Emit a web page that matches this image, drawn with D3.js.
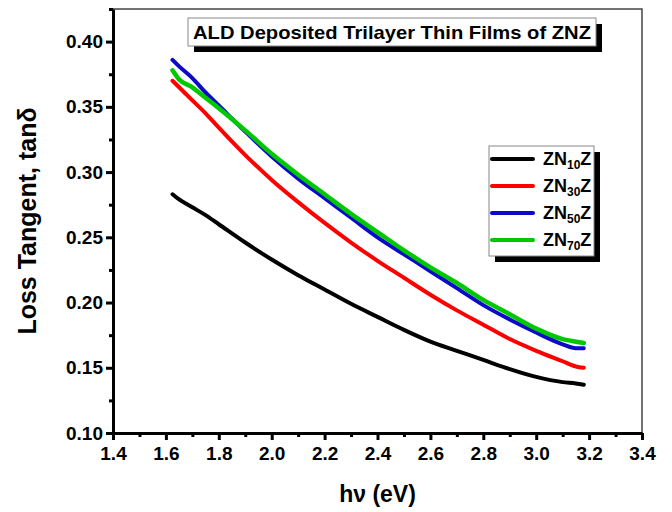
<!DOCTYPE html>
<html>
<head>
<meta charset="utf-8">
<script src="https://cdn.jsdelivr.net/npm/d3@7"></script>
<style>
  body { margin: 0; background: #fff; }
  svg { display: block; font-family: "Liberation Sans", Arial, sans-serif; }
  .axis text { font-size: 19px; font-weight: bold; fill: #000; }
  .axis path, .axis line { stroke: #000; }
</style>
</head>
<body>
<script>
// photon energy grid (eV)
var energy = [1.625, 1.65, 1.7, 1.75, 1.8, 1.9, 2.0, 2.1, 2.2, 2.3, 2.4, 2.5, 2.6, 2.7, 2.8, 2.9, 3.0, 3.1, 3.15, 3.18];

// loss tangent
var zn10z = [0.283, 0.279, 0.273, 0.267, 0.260, 0.246, 0.233, 0.221, 0.210, 0.199, 0.189, 0.179, 0.170, 0.163, 0.156, 0.149, 0.143, 0.139, 0.138, 0.137];
var zn30z = [0.370, 0.365, 0.355, 0.345, 0.334, 0.313, 0.294, 0.277, 0.261, 0.246, 0.232, 0.219, 0.206, 0.194, 0.183, 0.172, 0.163, 0.155, 0.151, 0.150];
var zn50z = [0.386, 0.381, 0.372, 0.361, 0.351, 0.331, 0.312, 0.295, 0.280, 0.265, 0.250, 0.237, 0.224, 0.211, 0.198, 0.187, 0.177, 0.168, 0.165, 0.165];
var zn70z = [0.378, 0.371, 0.365, 0.357, 0.349, 0.332, 0.314, 0.298, 0.283, 0.268, 0.254, 0.240, 0.227, 0.215, 0.202, 0.191, 0.180, 0.172, 0.170, 0.169];

var seriesNames = ["10", "30", "50", "70"];
var seriesColors = ["#000000", "#ff0000", "#0a0ac8", "#00c800"];
var seriesValues = [zn10z, zn30z, zn50z, zn70z];

var xTicks = [1.4, 1.6, 1.8, 2.0, 2.2, 2.4, 2.6, 2.8, 3.0, 3.2, 3.4];
var xMinor = [1.5, 1.7, 1.9, 2.1, 2.3, 2.5, 2.7, 2.9, 3.1, 3.3];
var yTicks = [0.10, 0.15, 0.20, 0.25, 0.30, 0.35, 0.40];
var yMinor = [0.125, 0.175, 0.225, 0.275, 0.325, 0.375, 0.425];

var titleText = "ALD Deposited Trilayer Thin Films of ZNZ";

var margin = {top: 9, right: 30, bottom: 79, left: 113},
    width = 672 - margin.left - margin.right,
    height = 512 - margin.top - margin.bottom;

var x = d3.scaleLinear()
        .domain([1.4, 3.4])
        .range([0, width]);

var y = d3.scaleLinear()
        .domain([0.10, 0.425])
        .range([height, 0]);

var svg = d3.select("body").append("svg")
        .attr("width", 672)
        .attr("height", 512);

svg.append("rect")
        .attr("width", 672)
        .attr("height", 512)
        .attr("fill", "#fff");

var focus = svg.append("g")
        .attr("transform", "translate(" + margin.left + "," + margin.top + ")");

// thin frame on top / right
focus.append("path")
        .attr("d", "M0,0H" + width + "V" + height)
        .attr("fill", "none")
        .attr("stroke", "#444")
        .attr("stroke-width", 1.5);

var line = d3.line()
        .x(function(d) { return x(d[0]); })
        .y(function(d) { return y(d[1]); })
        .curve(d3.curveMonotoneX);

seriesValues.forEach(function(vals, i) {
    focus.append("path")
            .datum(energy.map(function(e, j) { return [e, vals[j]]; }))
            .attr("fill", "none")
            .attr("stroke", seriesColors[i])
            .attr("stroke-width", i == 3 ? 4.5 : 4)
            .attr("stroke-linejoin", "round")
            .attr("stroke-linecap", "round")
            .attr("d", line);
});

// minor ticks
focus.append("g")
        .attr("class", "axis")
        .attr("transform", "translate(0," + height + ")")
        .call(d3.axisBottom(x).tickValues(xMinor).tickSize(4).tickFormat(""))
        .call(function(g) { g.select(".domain").remove(); })
        .selectAll("line").attr("stroke-width", 3);
focus.append("g")
        .attr("class", "axis")
        .call(d3.axisLeft(y).tickValues(yMinor).tickSize(4).tickFormat(""))
        .call(function(g) { g.select(".domain").remove(); })
        .selectAll("line").attr("stroke-width", 3);

// major axes
var xAxisG = focus.append("g")
        .attr("class", "axis")
        .attr("transform", "translate(0," + height + ")")
        .call(d3.axisBottom(x).tickValues(xTicks).tickSize(7).tickSizeOuter(0).tickPadding(7).tickFormat(d3.format(".1f")));
xAxisG.select(".domain").attr("stroke-width", 3);
xAxisG.selectAll("line").attr("stroke-width", 3);

var yAxisG = focus.append("g")
        .attr("class", "axis")
        .call(d3.axisLeft(y).tickValues(yTicks).tickSize(7).tickSizeOuter(0).tickPadding(3).tickFormat(d3.format(".2f")));
yAxisG.select(".domain").attr("stroke-width", 3);
yAxisG.selectAll("line").attr("stroke-width", 3);

// axis titles
svg.append("text")
        .attr("transform", "translate(36," + (margin.top + height / 2) + ") rotate(-90)")
        .attr("text-anchor", "middle")
        .attr("font-size", 25)
        .attr("font-weight", "bold")
        .text("Loss Tangent, tanδ");

svg.append("text")
        .attr("x", margin.left + width / 2)
        .attr("y", 502)
        .attr("text-anchor", "middle")
        .attr("font-size", 23)
        .attr("font-weight", "bold")
        .text("hν (eV)");

// title box
var tb = {x: 188, y: 18, w: 408, h: 28};
svg.append("rect")
        .attr("x", tb.x + 6).attr("y", tb.y + 6)
        .attr("width", tb.w).attr("height", tb.h)
        .attr("fill", "#000");
svg.append("rect")
        .attr("x", tb.x).attr("y", tb.y)
        .attr("width", tb.w).attr("height", tb.h)
        .attr("fill", "#fff")
        .attr("stroke", "#888")
        .attr("stroke-width", 1);
svg.append("text")
        .attr("x", tb.x + tb.w / 2)
        .attr("y", tb.y + 21)
        .attr("text-anchor", "middle")
        .attr("font-size", 19)
        .attr("font-weight", "bold")
        .attr("textLength", 398)
        .attr("lengthAdjust", "spacingAndGlyphs")
        .text(titleText);

// legend
var lg = {x: 489, y: 146, w: 105, h: 110};
svg.append("rect")
        .attr("x", lg.x + 6).attr("y", lg.y + 6)
        .attr("width", lg.w).attr("height", lg.h)
        .attr("fill", "#000");
svg.append("rect")
        .attr("x", lg.x).attr("y", lg.y)
        .attr("width", lg.w).attr("height", lg.h)
        .attr("fill", "#fff")
        .attr("stroke", "#888")
        .attr("stroke-width", 1);

var legend = svg.append("g")
        .selectAll("g")
        .data(seriesNames)
        .enter().append("g")
        .attr("transform", function(d, i) { return "translate(" + lg.x + "," + (lg.y + 13 + i * 27) + ")"; });

legend.append("line")
        .attr("x1", 3).attr("x2", 44)
        .attr("stroke", function(d, i) { return seriesColors[i]; })
        .attr("stroke-width", 4)
        .attr("stroke-linecap", "round");

var lt = legend.append("text")
        .attr("x", 54)
        .attr("y", 6)
        .attr("font-size", 18)
        .attr("font-weight", "bold");
lt.append("tspan").text("ZN");
lt.append("tspan").attr("font-size", 12).attr("dy", 4).text(function(d) { return d; });
lt.append("tspan").attr("dy", -4).text("Z");
</script>
</body>
</html>
